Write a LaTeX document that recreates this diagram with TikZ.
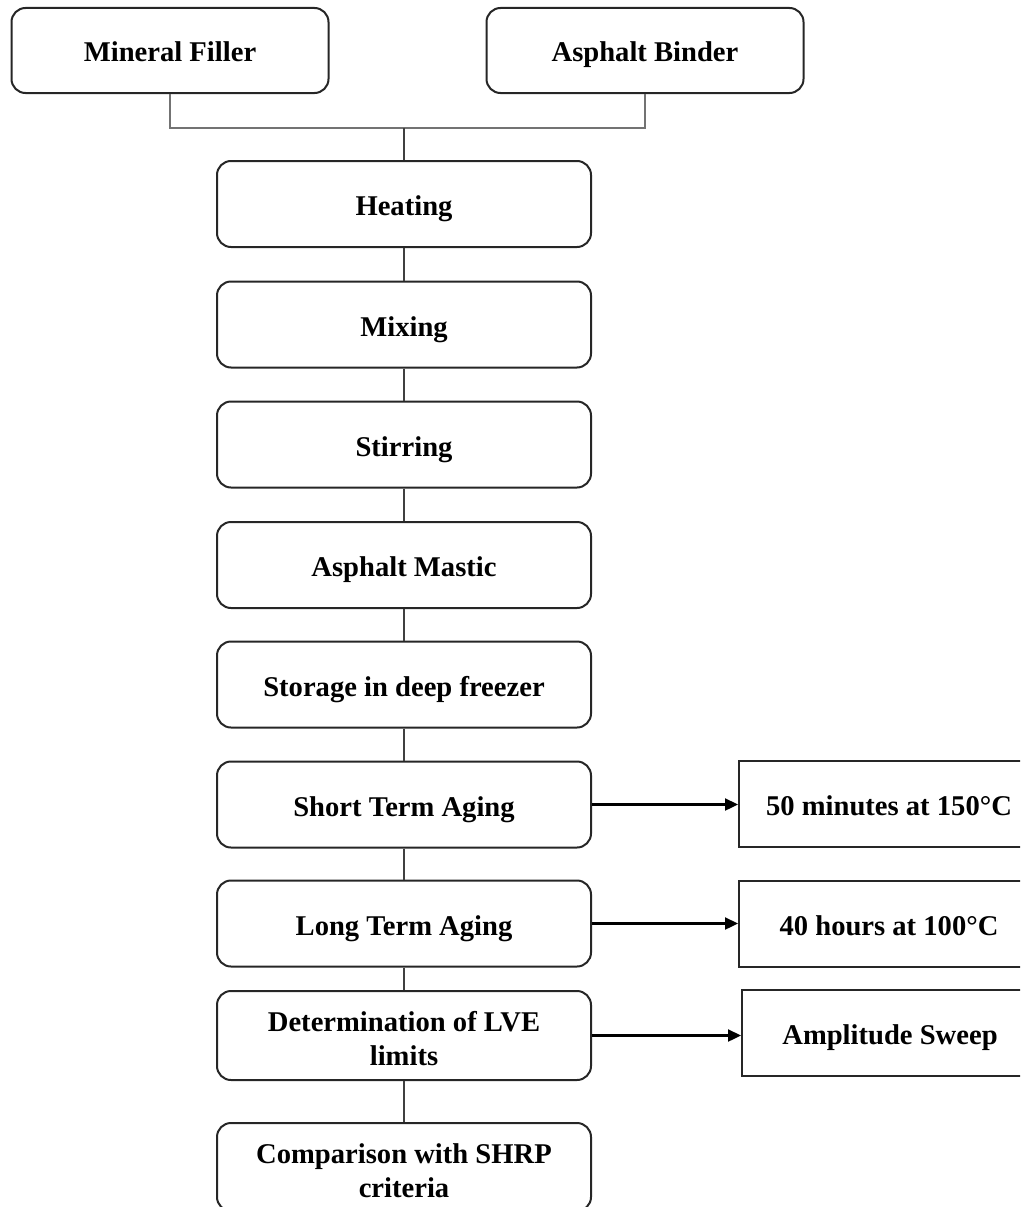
\documentclass[tikz,border=0pt]{standalone}
\usepackage{fontspec}
\setmainfont{Liberation Serif}
\usetikzlibrary{arrows.meta}
% struts that fix where two-line labels sit in their boxes
\newcommand\firstlinestrut{\rule{0pt}{29pt}}
\newcommand\lastlinestrut{\rule[-3pt]{0pt}{3pt}}
\begin{document}
\begin{tikzpicture}[x=1pt,y=-1pt,
  every node/.style={font=\bfseries\fontsize{28.6}{34}\selectfont, align=center, inner sep=0pt},
  oneline/.style={text height=27pt, text depth=4pt},
  stepbox/.style={draw=black!85, line width=2pt, rounded corners=14pt,
    minimum width=374pt, minimum height=86pt},
  srcbox/.style={draw=black!85, line width=2pt, rounded corners=14pt,
    minimum width=317pt, minimum height=85pt, oneline},
  notebox/.style={draw=black!85, line width=2pt, anchor=west,
    minimum width=300pt, minimum height=86pt, oneline},
  feed/.style={draw=black!55, line width=1.1pt},
  link/.style={draw=black!75, line width=1.3pt},
  pointer/.style={draw=black, line width=2.3pt, -{Triangle[length=13pt,width=12pt]}}
]
\useasboundingbox (0,0) rectangle (1020,1207);
\clip (0,0) rectangle (1020,1207);

% raw materials
\node[srcbox] (filler) at (170,50.5) {Mineral Filler};
\node[srcbox] (binder) at (645,50.5) {Asphalt Binder};

% main preparation and testing sequence
\node[stepbox, oneline] (heat)  at (404,204)   {Heating};
\node[stepbox, oneline] (mix)   at (404,324.5) {Mixing};
\node[stepbox, oneline] (stir)  at (404,444.5) {Stirring};
\node[stepbox, oneline] (mast)  at (404,565)   {Asphalt Mastic};
\node[stepbox, oneline] (store) at (404,684.5) {Storage in deep freezer};
\node[stepbox, oneline] (short) at (404,804.5) {Short Term Aging};
\node[stepbox, oneline] (long)  at (404,923.5) {Long Term Aging};
\node[stepbox, minimum height=89pt] (lve)  at (404,1035.5)
  {\firstlinestrut Determination of LVE\\limits\lastlinestrut};
\node[stepbox, minimum height=88pt] (shrp) at (404,1167)
  {\firstlinestrut Comparison with SHRP\\criteria\lastlinestrut};

% conditions
\node[notebox] (cond1) at (738,804)    {50 minutes at 150°C};
\node[notebox] (cond2) at (738,924)    {40 hours at 100°C};
\node[notebox, minimum width=296pt] (sweep) at (741,1032.5) {Amplitude Sweep};

% merging the two inputs
\coordinate (join) at (404,128);
\draw[feed] (filler.south) |- (join) -| (binder.south);
\draw[link] (join) -- (heat.north);

% links down the sequence
\draw[link] (heat) -- (mix);
\draw[link] (mix) -- (stir);
\draw[link] (stir) -- (mast);
\draw[link] (mast) -- (store);
\draw[link] (store) -- (short);
\draw[link] (short) -- (long);
\draw[link] (long) -- (lve);
\draw[link] (lve) -- (shrp);

% side arrows
\draw[pointer] (short.east) -- (short.east -| cond1.west);
\draw[pointer] (long.east) -- (long.east -| cond2.west);
\draw[pointer] (lve.east) -- (lve.east -| sweep.west);
\end{tikzpicture}
\end{document}
